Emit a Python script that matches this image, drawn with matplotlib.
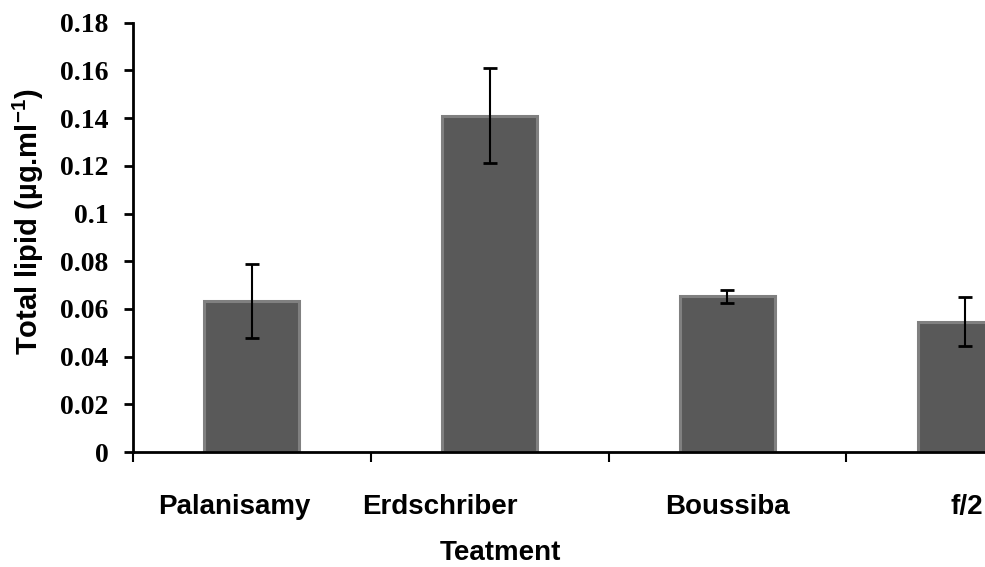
import matplotlib
matplotlib.use("Agg")
import matplotlib.pyplot as plt
import matplotlib.transforms as mtransforms

categories = ["Palanisamy", "Erdschriber", "Boussiba", "f/2"]
values = [0.0635, 0.141, 0.0652, 0.0547]
errors = [0.0155, 0.020, 0.0028, 0.0103]
yticks = [0, 0.02, 0.04, 0.06, 0.08, 0.1, 0.12, 0.14, 0.16, 0.18]
ytick_labels = ["0", "0.02", "0.04", "0.06", "0.08", "0.1", "0.12", "0.14", "0.16", "0.18"]
label_shift = [-0.075, -0.21, 0.0, 0.005]  # label horizontal offsets (layout)

plt.rcParams['mathtext.fontset'] = 'custom'
plt.rcParams['mathtext.rm'] = 'Liberation Sans:bold'
plt.rcParams['mathtext.it'] = 'Liberation Sans:bold'
plt.rcParams['mathtext.bf'] = 'Liberation Sans:bold'

W, H = 985, 567
fig = plt.figure(figsize=(W / 100, H / 100), dpi=100)
ax = fig.add_axes([133 / W, 115 / H, 951 / W, 429.3 / H])

x = list(range(len(categories)))
ax.bar(x, values, width=0.40, color="#595959", edgecolor="#808080", linewidth=2.2, zorder=2)
ax.errorbar(x, values, yerr=errors, fmt="none", ecolor="black", elinewidth=1.5,
            capsize=5.3, capthick=2.0, zorder=3)

ax.set_xlim(-0.5, 3.5)
ax.set_ylim(0, 0.18)
ax.set_yticks(yticks)
ax.set_yticklabels(ytick_labels, fontfamily="Liberation Serif", fontweight="bold", fontsize=20)
ax.set_xticks([-0.5, 0.5, 1.5, 2.5, 3.5])
ax.set_xticklabels([])

for s in ["top", "right"]:
    ax.spines[s].set_visible(False)
for s in ["left", "bottom"]:
    ax.spines[s].set_linewidth(2.0)
    ax.spines[s].set_color("black")

ax.tick_params(axis="y", direction="out", length=6.5, width=2.0, pad=11)
ax.tick_params(axis="x", direction="out", length=7, width=1.5)

trans = mtransforms.blended_transform_factory(ax.transData, ax.transAxes)
for i, (cat, sh) in enumerate(zip(categories, label_shift)):
    ax.text(i + sh, -0.1444, cat, transform=trans, ha="center", va="baseline",
            fontfamily="Liberation Sans", fontweight="bold", fontsize=20, clip_on=False)

fig.text(500 / W, 1.5 / H, "Teatment", ha="center", va="bottom",
         fontfamily="Liberation Sans", fontweight="bold", fontsize=20)
fig.text(28 / W, 1 - 221.5 / H, "Total lipid (µg.ml$^{-1}$)", rotation=90, ha="center", va="center",
         fontfamily="Liberation Sans", fontweight="bold", fontsize=21)

fig.savefig("out.png", dpi=100)
